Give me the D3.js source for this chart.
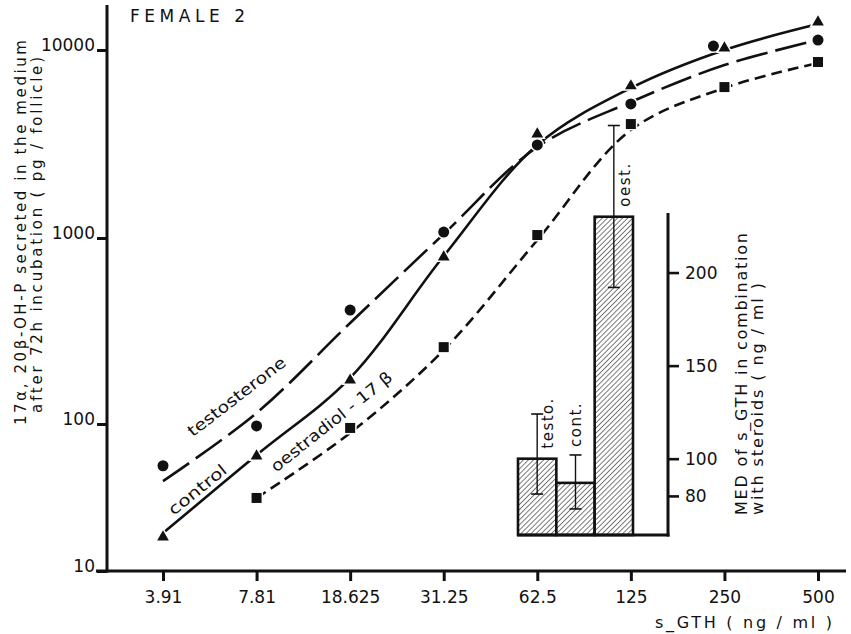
<!DOCTYPE html>
<html><head><meta charset="utf-8">
<script src="https://cdn.jsdelivr.net/npm/d3@7"></script>
<style>
body{margin:0;background:#fff}
svg{display:block;background:#fff}
text{font-family:"DejaVu Sans",sans-serif;fill:#111}
</style>
</head><body>
<svg id="c" width="851" height="634"></svg>
<script>
// ---- data ----
const doses = ["3.91","7.81","18.625","31.25","62.5","125","250","500"];
const yTicks = [10,100,1000,10000];
const testosterone = [52,97,410,1076,3128,5164,10500,11300];
const control = [17,60.5,172,790,3573,6440,10250,14090];
const oestradiol = [null,31.4,94,259,1037,4037,6350,8630];
const testosteroneFit = [40.9,114.6,349,1050,3049,5288,8318,11300];
const controlFit = [18.1,61.5,177,800,3126,6279,10000,13740];
const oestradiolFit = [null,31.4,86.9,250,975,3750,6279,8530];
const insetGroups = ["testo.","cont.","oest."];
const insetMED = [100,87,230];
const insetLow = [81,73,192];
const insetHigh = [124,102,279];
const insetTicks = [80,100,150,200];

const svg = d3.select("#c");
const x = d3.scalePoint().domain(doses).range([163,818]);
const y = d3.scaleLog().domain([10,100,1000,10000]).range([571,424,238,50]);

// hatch pattern
const defs = svg.append("defs");
const pat = defs.append("pattern").attr("id","hatch").attr("patternUnits","userSpaceOnUse")
  .attr("width",3.6).attr("height",3.6).attr("patternTransform","rotate(45)");
pat.append("rect").attr("width",3.6).attr("height",3.6).attr("fill","#fff");
pat.append("line").attr("x1",0).attr("y1",0).attr("x2",0).attr("y2",3.6)
  .attr("stroke","#333").attr("stroke-width",1.3);

// axes
const gy = svg.append("g").attr("transform","translate(107,0)")
  .call(d3.axisLeft(y).tickValues(yTicks).tickSize(10).tickPadding(2).tickFormat(d=>String(d)));
gy.select(".domain").remove();
gy.selectAll(".tick line").attr("stroke","#111").attr("stroke-width",3);
gy.selectAll(".tick text").attr("font-size",17).attr("dy","0.05em").style("font-family","DejaVu Sans");

const gx = svg.append("g").attr("transform","translate(0,571)")
  .call(d3.axisBottom(x).tickSize(10).tickPadding(10));
gx.select(".domain").remove();
gx.selectAll(".tick line").attr("stroke","#111").attr("stroke-width",3);
gx.selectAll(".tick text").attr("font-size",17).style("font-family","DejaVu Sans");

svg.append("line").attr("x1",107).attr("x2",107).attr("y1",5).attr("y2",572.5)
  .attr("stroke","#111").attr("stroke-width",3);
svg.append("line").attr("x1",96).attr("x2",846).attr("y1",571).attr("y2",571)
  .attr("stroke","#111").attr("stroke-width",3);

// curves
const series = [
  {name:"testosterone", pts:testosterone, fit:testosteroneFit, dash:"32,8", sym:d3.symbolCircle, size:95},
  {name:"control", pts:control, fit:controlFit, dash:null, sym:d3.symbolTriangle, size:60},
  {name:"oestradiol", pts:oestradiol, fit:oestradiolFit, dash:"11,6", sym:d3.symbolSquare, size:100}
];
const line = d3.line().defined(d=>d.v!=null).x(d=>x(d.k)).y(d=>y(d.v)).curve(d3.curveCatmullRom.alpha(0.5));
series.forEach(s=>{
  svg.append("path").datum(doses.map((k,i)=>({k,v:s.fit[i]})).filter(d=>d.v!=null))
    .attr("d",line).attr("fill","none").attr("stroke","#111").attr("stroke-width",2.6)
    .attr("stroke-dasharray",s.dash);
});
series.forEach(s=>{
  const data = doses.map((k,i)=>({k,i,v:s.pts[i]})).filter(d=>d.v!=null);
  svg.selectAll(null).data(data).enter().append("path")
    .attr("d",d3.symbol().type(s.sym).size(s.size))
    .attr("transform",d=>{
      let dx=0;
      if(s.name==="testosterone" && Math.abs(y(d.v)-y(control[d.i]))<8) dx=-11;
      return `translate(${x(d.k)+dx},${y(d.v)})`;
    })
    .attr("fill","#111").attr("stroke","#fff").attr("stroke-width",3).style("paint-order","stroke");
});

// curve labels
function rotLabel(txt,cx,cy,ang,len,fs){
  svg.append("text").attr("transform",`translate(${cx},${cy}) rotate(${ang})`)
    .attr("text-anchor","middle").attr("font-size",fs)
    .attr("textLength",len).attr("lengthAdjust","spacingAndGlyphs").text(txt);
}
rotLabel("testosterone",240,401,-37.5,119,16);
rotLabel("control",201,494,-39,70,16);
rotLabel("oestradiol - 17 β",335,426,-38.5,150,16);

// title and axis titles
svg.append("text").attr("x",130).attr("y",22).attr("font-size",17)
  .attr("textLength",115).attr("lengthAdjust","spacing").text("FEMALE 2");
svg.append("text").attr("x",655).attr("y",628).attr("font-size",16)
  .attr("textLength",177).attr("lengthAdjust","spacing").text("s_GTH ( ng / ml )");
svg.append("text").attr("transform","translate(26,425) rotate(-90)").attr("font-size",15)
  .attr("textLength",385).attr("lengthAdjust","spacing").text("17α, 20β-OH-P secreted in the medium");
svg.append("text").attr("transform","translate(42,413) rotate(-90)").attr("font-size",15)
  .attr("textLength",356).attr("lengthAdjust","spacing").text("after 72h incubation ( pg / follicle)");

// inset bar chart
const xi = d3.scaleBand().domain(insetGroups).range([518,633]).padding(0);
const yi = d3.scaleLinear().domain([59,232]).range([535,213]);
const gi = svg.append("g");
gi.selectAll("rect").data(insetGroups).enter().append("rect")
  .attr("x",d=>xi(d)).attr("width",xi.bandwidth())
  .attr("y",(d,i)=>yi(insetMED[i])).attr("height",(d,i)=>yi(59)-yi(insetMED[i]))
  .attr("fill","url(#hatch)").attr("stroke","#111").attr("stroke-width",2.6);
insetGroups.forEach((g,i)=>{
  const cx = xi(g)+xi.bandwidth()/2;
  gi.append("line").attr("x1",cx).attr("x2",cx).attr("y1",yi(insetLow[i])).attr("y2",yi(insetHigh[i]))
    .attr("stroke","#111").attr("stroke-width",1.4);
  [insetLow[i],insetHigh[i]].forEach(v=>{
    gi.append("line").attr("x1",cx-6).attr("x2",cx+6).attr("y1",yi(v)).attr("y2",yi(v))
      .attr("stroke","#111").attr("stroke-width",1.6);
  });
  const beside = yi(insetHigh[i]) < yi(insetMED[i]) - 40;
  const ly = beside ? yi(insetMED[i]) - 10 : yi(insetHigh[i]) - 8;
  const lx = beside ? cx + 16 : cx + 5.5;
  gi.append("text").attr("transform",`translate(${lx},${ly}) rotate(-90)`)
    .attr("font-size",15).attr("letter-spacing",1.5).text(g);
});
gi.append("line").attr("x1",517).attr("x2",669.5).attr("y1",535).attr("y2",535)
  .attr("stroke","#111").attr("stroke-width",3);
const gia = gi.append("g").attr("transform","translate(668,0)")
  .call(d3.axisRight(yi).tickValues(insetTicks).tickSize(11).tickPadding(6).tickFormat(d=>String(d)));
gia.select(".domain").remove();
gia.selectAll(".tick line").attr("stroke","#111").attr("stroke-width",2.6);
gia.selectAll(".tick text").attr("font-size",17).style("font-family","DejaVu Sans");
gi.append("line").attr("x1",668).attr("x2",668).attr("y1",213).attr("y2",536.5)
  .attr("stroke","#111").attr("stroke-width",3);
gi.append("text").attr("transform","translate(747,515) rotate(-90)").attr("font-size",16)
  .attr("textLength",282).attr("lengthAdjust","spacing").text("MED of s_GTH in combination");
gi.append("text").attr("transform","translate(763,515) rotate(-90)").attr("font-size",16)
  .attr("textLength",232).attr("lengthAdjust","spacing").text("with steroids ( ng / ml )");
</script>
</body></html>
